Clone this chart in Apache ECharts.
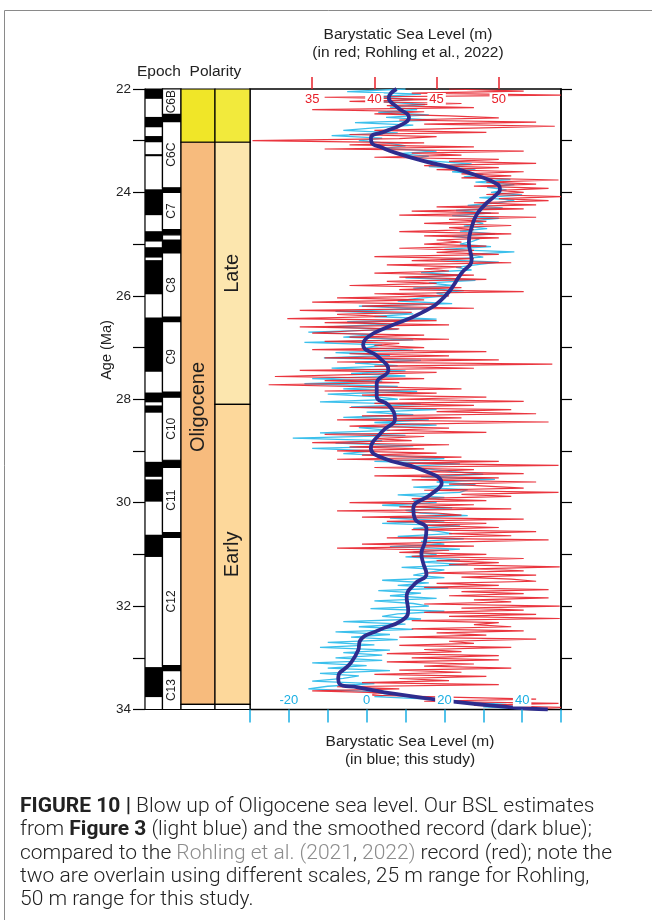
<!DOCTYPE html>
<html><head><meta charset="utf-8">
<script src="https://cdn.jsdelivr.net/npm/echarts@6/dist/echarts.min.js"></script>
<style>html,body{margin:0;padding:0;background:#fff}#c{width:652px;height:920px}</style>
</head><body><div id="c"></div>
<script>
// ---------- data ----------
const ageTicks = [22, 24, 26, 28, 30, 32, 34];
const redTicks = [35, 40, 45, 50];
const blueTickLabels = [-20, 0, 20, 40];

// Rohling et al. (2022) BSL, regular sampling from 22 Ma every 0.04 Myr (red scale 30..55 m)
const redStart = 22, redStep = 0.04;
const redValues = [
 46,52,43,55,36, 45,38,47,41,48,35,44,40, 46,50,42,53,44,54.5,47, 40,49,38,45,42,
 30.2,44, 38,48,36,52,43,47,40,50, 46,53,44,50,45,52,47, 51,47,54.8,49,53,48,54,50,
 52,49,55,50,54,48,53, 45,52,43,50,42,53,46,49,44,51,46, 48,42,51,44,50,45,47,
 44,49,42,48,45,50, 40,48,43,51,41,47,44, 46,40,48,42,49,41,45, 38,47,42,52,40,
 46,37,44, 35,45,39,48,34,43,37, 41,33,45,36,46,34,42,38, 35,44,38,46,36,42, 40,
 44,35,49,38,46,36,50, 37,54.3,40,48,34,45,39, 32,44,36,42,31.5,40, 47,36,45,39,49,
 42,52,40,48,38,51, 45,53,39,47,37,54,43, 38,46,41,49,36,44,40, 43,35,46,38,44,
 37,45,39, 47,37,50,42,54.8,40,48, 44,52,40,50,43,53,46,49, 52,44,54.8,47,51,43,49,
 38,48,42,51,37,45, 47,39,52,41,49,44,50, 43,53,46,51,41,54,47, 39,48,37,46,42,
 49,43,52,45,50, 46,54.9,48,52,44,53,47,51, 53,45,50,44,54,47,52, 46,54,48,51,44,
 54.9,47,52, 44,53,46,54.9,43,50,48, 51,43,52,45,49,42,53,46, 48,42,51,44,47,41,50,
 43,50,41,48,44,51,42, 47,40,49,42,46,39,50, 37,42,35,41,39, 46,53,44,54.8,48,55,
 52
];

// This study BSL, regular sampling from 22 Ma every 0.05 Myr (blue scale -30..50 m)
const blueStart = 22, blueStep = 0.05;
const blueValues = [
 10,-5,14,2, 12,4,15,6,13,3, 16,5,18,-3,12,2, -6,8,-9,4,
 -2,6, 10,4,18,8,16,12, 18,27,16,28,22, 30,25,37,28,38,31,36,
 32,40,29,38,34, 26,35,23,32,22,34,27,30,25, 31,24,33,22,29,27,
 24,32,20,38,26,30,19,34,28,23, 27,14,24,10,28,16,22,12,25,18,
 21,13, 8,22,-2,15,-8,12,2,18,-5,6, -10,8,-15,2,-6,12,-16,4,
 0,12,-8,6,-11,14,-3,8,-9,10, -4,10,-14,4,-16,8,-6,13,-10,2,
 8,-12,14,-4,18,0, 12,-6,16,2,18,-2, 6,-12,10,-19,4,-8,12,-14,
 2,-6, 8,20,2,24,10,16, 22,30,14,33,18,28,12,26, 24,8,20,12,
 18,4,22,10, 14,26,6,20,4,24,12,18, 22,8,25,14,20,6,24,12,
 18,10,24,14,26,9,20,16, 12,20,4,16,8,21,3,14, 6,18,2,12,
 16,1,20,8, 4,14,-6,10,-2,12,-8,6, -4,8,-10,2,-12,6,-6,4,
 -8,4,-14,0,-10,6,-12,-2, -6,-14,2,-10,-15,0, 8,2,16, 24,36,30,
 44
];

// Smoothed record (dark blue)
const smoothAges = [22.0,22.17,22.36,22.55,22.69,22.82,22.94,23.04,23.13,23.23,23.40,23.52,23.66,23.85,23.95,24.04,24.24,24.43,24.68,24.97,25.30,25.56,26.02,26.33,26.60,26.79,26.95,27.18,27.44,27.69,27.95,28.11,28.37,28.63,28.95,29.15,29.34,29.63,29.83,30.12,30.31,30.50,30.76,30.99,31.18,31.38,31.57,31.83,32.09,32.28,32.47,32.67,32.86,33.12,33.38,33.51,33.57,33.70,33.83,33.96,34.0];
const smoothValues = [7.7,5.7,8.0,10.9,9.0,4.7,1.1,1.3,3.9,7.3,15.0,21.9,27.8,33.8,34.3,33.4,30.4,28.3,27.0,26.3,27.0,24.4,20.0,14.1,5.6,0.4,-0.9,3.0,5.6,2.6,2.6,5.6,7.3,3.9,1.1,4.7,13.3,19.3,16.7,12.0,12.4,15.4,15.0,14.1,14.6,15.4,12.4,10.3,10.7,9.0,3.0,-1.7,-2.2,-4.3,-7.3,-6.9,-2.2,7.3,20.1,37.3,46.6];

// Polarity: normal (black) intervals, Ma
const normalChrons = [[22.0,22.19],[22.54,22.74],[22.91,23.03],[23.26,23.30],[23.94,24.44],[24.75,24.95],[25.06,25.26],[25.31,25.97],[26.42,27.47],[27.87,28.06],[28.12,28.26],[29.21,29.50],[29.55,29.98],[30.62,31.05],[33.18,33.76]];
const chronNames = ['C6B','C6C','C7','','C8','C9','C10','C11','C12','C13'];
const chronSpans = [[22,22.49],[22.63,23.91],[24.0,24.72],[24.82,24.92],[25.17,26.41],[26.5,27.86],[27.96,29.18],[29.32,30.58],[30.67,33.15],[33.25,34.0]];
const epochNames = ['', 'Oligocene', ''];
const epochSpans = [[22,23.03],[23.03,33.9],[33.9,34]];
const subEpochNames = ['', 'Late', 'Early', ''];
const subEpochSpans = [[22,23.03],[23.03,28.1],[28.1,33.9],[33.9,34]];

// ---------- layout / style ----------
const COL = {pol:[0,17.5], lab:[17.5,36], epo:[36,70], sub:[70,105]};
const epochFills = ['#F0E628','#F7BB7D','#ffffff'];
const subFills = ['#F2EA3C','#FCE6AE','#FDD89B','#ffffff'];
const epochTextAge = {'Oligocene': 28.15};
const RED = '#E8202A', CYAN = '#1AAFE3', NAVY = '#2E2C8E';

const items = [];
items.push({x:COL.pol, a:[22,34], fill:'#fff', stroke:'#000'});
normalChrons.forEach(s => items.push({x:COL.pol, a:s, fill:'#000'}));
items.push({x:COL.lab, a:[22,34], fill:'#000', stroke:'#000'});
chronSpans.forEach((s,i) => items.push({x:COL.lab, a:s, fill:'#fff', stroke:'#000', text:chronNames[i], fs:12}));
epochSpans.forEach((s,i) => items.push({x:COL.epo, a:s, fill:epochFills[i], stroke:'#000', text:epochNames[i], fs:20}));
subEpochSpans.forEach((s,i) => items.push({x:COL.sub, a:s, fill:subFills[i], stroke:'#000', text:subEpochNames[i], fs:20}));

const redData = redValues.map((v,i) => [v, +(redStart + i*redStep).toFixed(2)]);
const blueData = blueValues.map((v,i) => [v, +(blueStart + i*blueStep).toFixed(2)]);
const smoothData = smoothAges.map((a,i) => [smoothValues[i], a]);

const chart = echarts.init(document.getElementById('c'), null, {renderer:'canvas'});
chart.setOption({
  animation:false,
  backgroundColor:'#fff',
  textStyle:{fontFamily:'Liberation Sans'},
  graphic:[
    {type:'rect', silent:true, z:-10, shape:{x:4.5,y:10.5,width:700,height:1000}, style:{fill:'none', stroke:'#8a8a8a', lineWidth:1}},
    {type:'text', silent:true, x:107, y:350, rotation:Math.PI/2,
     style:{text:'Age (Ma)', fontSize:14.5, fontFamily:'Liberation Sans', fill:'#222', align:'center', verticalAlign:'middle'}}
  ],
  title:[
    {text:'Barystatic Sea Level (m)\n(in red; Rohling et al., 2022)', left:403, top:21, textAlign:'center',
     textStyle:{fontSize:15.5, fontWeight:'normal', color:'#222', lineHeight:18, fontFamily:'Liberation Sans'}},
    {text:'Barystatic Sea Level (m)\n(in blue; this study)', left:405, top:728, textAlign:'center',
     textStyle:{fontSize:15.5, fontWeight:'normal', color:'#222', lineHeight:18, fontFamily:'Liberation Sans'}},
    {text:'Epoch  Polarity', left:132, top:59,
     textStyle:{fontSize:15.5, fontWeight:'normal', color:'#222', fontFamily:'Liberation Sans'}},
    {text:'{b|FIGURE 10 |} Blow up of Oligocene sea level. Our BSL estimates\nfrom {b|Figure 3} (light blue) and the smoothed record (dark blue);\ncompared to the {g|Rohling et al. (2021}, {g|2022)} record (red); note the\ntwo are overlain using different scales, 25 m range for Rohling,\n50 m range for this study.',
     left:15, top:790,
     textStyle:{fontSize:21, fontWeight:300, color:'#222', lineHeight:23.3, fontFamily:'Roboto',
       rich:{b:{fontSize:21, fontWeight:'bold', color:'#222', fontFamily:'Roboto', lineHeight:23.3},
             g:{fontSize:21, fontWeight:300, color:'#8c8c8c', fontFamily:'Roboto', lineHeight:23.3}}}}
  ],
  grid:[
    {left:250, right:91, top:89, bottom:210.5, show:true, borderColor:'#000', borderWidth:1.5, backgroundColor:'transparent'},
    {left:145, right:402, top:89, bottom:210.5}
  ],
  xAxis:[
    {gridIndex:0, type:'value', position:'top', min:30, max:55, interval:5, z:10,
     axisLine:{show:false, onZero:false}, splitLine:{show:false},
     axisTick:{show:true, inside:false, length:12, customValues:redTicks, lineStyle:{color:RED, width:1.5}},
     axisLabel:{inside:true, customValues:redTicks, color:RED, fontSize:13, margin:4, backgroundColor:'#fff', padding:[0,2]}},
    {gridIndex:0, type:'value', position:'bottom', min:-30, max:50, interval:10, z:10,
     axisLine:{show:false, onZero:false}, splitLine:{show:false},
     axisTick:{show:true, inside:false, length:13, lineStyle:{color:CYAN, width:1.5}},
     axisLabel:{inside:true, customValues:blueTickLabels, color:CYAN, fontSize:13, margin:3, backgroundColor:'#fff', padding:[0,2]}},
    {gridIndex:1, type:'value', min:0, max:105, show:false}
  ],
  yAxis:[
    {gridIndex:0, type:'value', position:'right', min:22, max:34, interval:1, inverse:true,
     axisLine:{show:true, onZero:false, lineStyle:{color:'#000', width:1.5}}, splitLine:{show:false},
     axisTick:{show:true, length:11, lineStyle:{color:'#000', width:1.2}}, axisLabel:{show:false}},
    {gridIndex:1, type:'value', position:'left', min:22, max:34, interval:1, inverse:true,
     axisLine:{show:true, onZero:false, lineStyle:{color:'#000', width:1.2}}, splitLine:{show:false},
     axisTick:{show:true, length:12, lineStyle:{color:'#000', width:1.2}},
     axisLabel:{customValues:ageTicks, color:'#222', fontSize:13.5, margin:14}}
  ],
  series:[
    {type:'custom', xAxisIndex:2, yAxisIndex:1, clip:false, silent:true,
     data: items.map(d => [d.x[0], d.x[1], d.a[0], d.a[1]]),
     encode:{x:[0,1], y:[2,3]},
     renderItem:function(params, api){
       const d = items[params.dataIndex];
       const p0 = api.coord([d.x[0], d.a[0]]), p1 = api.coord([d.x[1], d.a[1]]);
       const rect = {type:'rect', shape:{x:p0[0], y:p0[1], width:p1[0]-p0[0], height:p1[1]-p0[1]},
         style:{fill:d.fill, stroke:d.stroke || null, lineWidth:1.2}};
       if (!d.text) return rect;
       const ty = epochTextAge[d.text] != null ? api.coord([0, epochTextAge[d.text]])[1] : (p0[1]+p1[1])/2;
       return {type:'group', children:[rect, {type:'text', x:(p0[0]+p1[0])/2, y:ty, rotation:Math.PI/2,
         style:{text:d.text, fontSize:d.fs, fontFamily:'Liberation Sans', fill:'#1e1e1e', align:'center', verticalAlign:'middle'}}]};
     }},
    {type:'line', name:'this study', xAxisIndex:1, yAxisIndex:0, data:blueData, showSymbol:false, symbol:'none',
     lineStyle:{color:'#3CC0EC', width:1.3}, z:3},
    {type:'line', name:'Rohling', xAxisIndex:0, yAxisIndex:0, data:redData, showSymbol:false, symbol:'none',
     lineStyle:{color:'#E8202A', width:1.2, opacity:0.9}, z:4},
    {type:'line', name:'smoothed', xAxisIndex:1, yAxisIndex:0, data:smoothData, showSymbol:false, symbol:'none', smooth:0.5,
     lineStyle:{color:NAVY, width:3.8}, z:5}
  ]
});
</script></body></html>
